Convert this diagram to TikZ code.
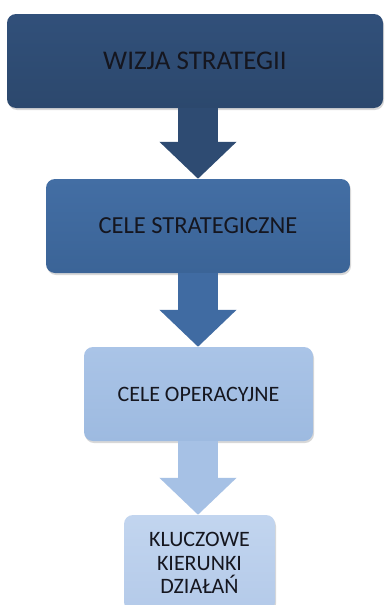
\documentclass[tikz,border=0pt]{standalone}
\usepackage{fontspec}
\setmainfont{Carlito}
\usetikzlibrary{arrows.meta,shadows}
\definecolor{navyA}{HTML}{31507A}
\definecolor{navyB}{HTML}{2C486D}
\definecolor{midA}{HTML}{436EA4}
\definecolor{midB}{HTML}{3B6497}
\definecolor{lightA}{HTML}{AAC4E7}
\definecolor{lightB}{HTML}{9DBAE0}
\definecolor{paleA}{HTML}{C2D5EF}
\definecolor{paleB}{HTML}{B4CAE9}
\definecolor{navyArr}{HTML}{2E4B72}
\definecolor{midArr}{HTML}{406BA2}
\definecolor{lightArr}{HTML}{A6C1E5}
\definecolor{txt}{HTML}{15161F}
\tikzset{
  boxstyle/.style={rounded corners=9pt, draw=none, text=txt, align=center,
    drop shadow={opacity=0.3, shadow xshift=1pt, shadow yshift=-2pt}},
  hugetext/.style={font=\fontsize{27}{30}\selectfont},
  bigtext/.style={font=\fontsize{24.5}{28}\selectfont},
  smalltext/.style={font=\fontsize{22}{23.5}\selectfont},
  blockarrow/.style={draw=#1, line width=40pt,
    -{Triangle[width=75pt, length=37pt]}, fill=#1}
}
\begin{document}
\begin{tikzpicture}[x=1pt,y=1pt]
\clip (0,0) rectangle (384,-605);
\fill[white] (0,0) rectangle (384,-605);
\coordinate (ax) at (198,0);
\node[boxstyle, hugetext, top color=navyA, bottom color=navyB, minimum width=376, minimum height=94] (b1) at (195,-61) {WIZJA STRATEGII};
\node[boxstyle, bigtext, top color=midA, bottom color=midB, minimum width=304, minimum height=94] (b2) at (198,-226) {CELE STRATEGICZNE};
\node[boxstyle, smalltext, top color=lightA, bottom color=lightB, minimum width=229, minimum height=94] (b3) at (198.5,-394) {CELE OPERACYJNE};
\node[boxstyle, smalltext, top color=paleA, bottom color=paleB, minimum width=151, minimum height=96] (b4) at (199.5,-563) {KLUCZOWE\\KIERUNKI\\DZIAŁAŃ};
\draw[blockarrow=navyArr] (b1.south -| ax) -- (b2.north -| ax);
\draw[blockarrow=midArr] (b2.south -| ax) -- (b3.north -| ax);
\draw[blockarrow=lightArr] (b3.south -| ax) -- (b4.north -| ax);
\end{tikzpicture}
\end{document}
